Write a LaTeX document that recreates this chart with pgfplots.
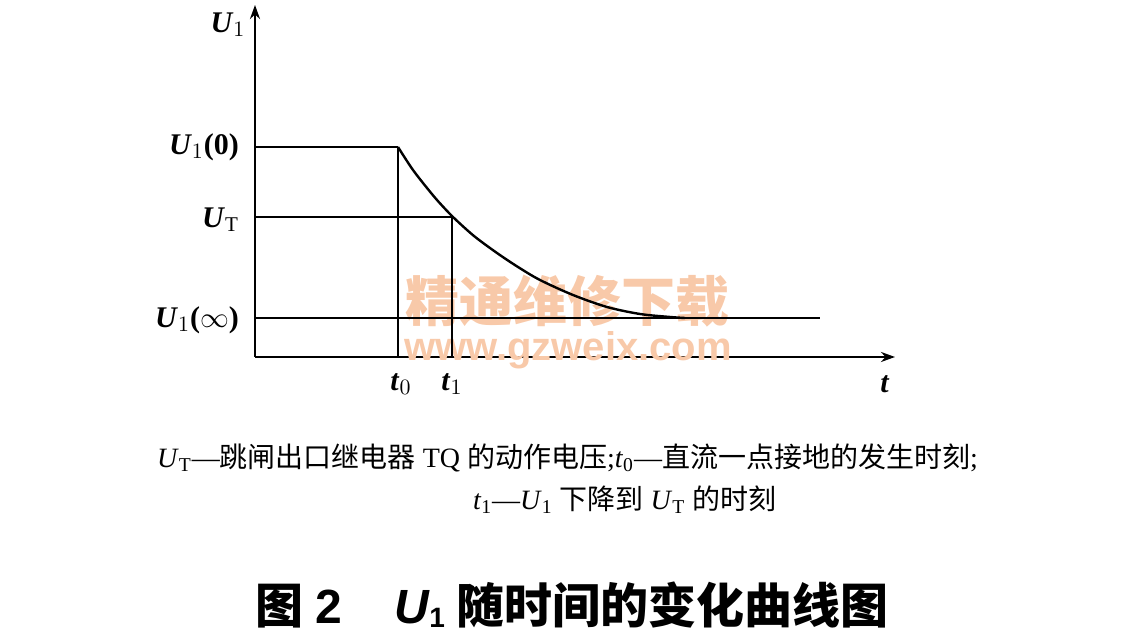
\documentclass[border=0pt]{standalone}
\usepackage{pgfplots}
\pgfplotsset{compat=1.18}
\usepackage{fontspec}
\setmainfont{Liberation Serif}
\newfontfamily\cjk{Noto Sans CJK SC}
\newfontfamily\arialf{Liberation Sans}
\usetikzlibrary{arrows.meta}
\definecolor{wm}{HTML}{F8C9A9}
\begin{document}
\begin{tikzpicture}
\begin{axis}[
  scale only axis, width=320pt, height=176pt,
  xmin=255, xmax=895, ymin=283, ymax=635,
  axis lines=left, axis line style={line width=1.2pt,-{Stealth[length=7pt,width=5pt]}},
  ticks=none, clip=false,
]
% page frame
\path (axis cs:0,0) rectangle (axis cs:1135,640);
% watermark
\node[inner sep=0pt, text=wm, font=\cjk\bfseries\fontsize{27pt}{27pt}\selectfont] at (axis cs:568,339) {精通维修下载};
\node[inner sep=0pt, text=wm, font=\arialf\bfseries\fontsize{20pt}{20pt}\selectfont] at (axis cs:568,290) {www.gzweix.com};
% lines
\addplot[line width=1.2pt, black] coordinates {(255,493) (398,493)};
\addplot[line width=1.2pt, black] coordinates {(255,423) (452,423)};
\addplot[line width=1.2pt, black] coordinates {(255,322) (820,322)};
\addplot[line width=1.1pt, black] coordinates {(398,493) (398,283)};
\addplot[line width=1.1pt, black] coordinates {(452,423) (452,283)};
\addplot[line width=1.2pt, black, smooth] coordinates {
 (398,493) (405,482) (413,470) (423,457) (437,440) (453,423) (474,404) (497,387) (518,373) (540,360) (573,345) (607,333) (640,326) (670,323) (685,322)};
% labels
\node[font=\fontsize{15pt}{15pt}\selectfont] at (axis cs:228,615) {\textbf{\textit{U}}$_1$};
\node[anchor=east, font=\fontsize{15pt}{15pt}\selectfont] at (axis cs:246,493) {\textbf{\textit{U}}$_1$\textbf{(0)}};
\node[anchor=east, font=\fontsize{15pt}{15pt}\selectfont] at (axis cs:246,420) {\textbf{\textit{U}}\textsubscript{T}};
\node[anchor=east, font=\fontsize{15pt}{15pt}\selectfont] at (axis cs:246,320) {\textbf{\textit{U}}$_1$\textbf{(}$\infty$\textbf{)}};
\node[font=\fontsize{15pt}{15pt}\selectfont] at (axis cs:401,256) {\textbf{\textit{t}}$_0$};
\node[font=\fontsize{15pt}{15pt}\selectfont] at (axis cs:452,256) {\textbf{\textit{t}}$_1$};
\node[font=\fontsize{15pt}{15pt}\selectfont] at (axis cs:885,256) {\textbf{\textit{t}}};
% caption
\node[anchor=west, font=\fontsize{14pt}{15pt}\selectfont] at (axis cs:150,182) {\textit{U}\textsubscript{T}—{\cjk 跳闸出口继电器} TQ {\cjk 的动作电压};\textit{t}\textsubscript{0}—{\cjk 直流一点接地的发生时刻};};
\node[anchor=west, font=\fontsize{14pt}{15pt}\selectfont] at (axis cs:466,140) {\textit{t}\textsubscript{1}—\textit{U}\textsubscript{1} {\cjk 下降到} \textit{U}\textsubscript{T} {\cjk 的时刻}};
% title
\node[font=\fontsize{24pt}{24pt}\selectfont] at (axis cs:572,35) {{\cjk\bfseries 图} {\arialf\bfseries 2}\hspace{1.1em}{\arialf\bfseries\itshape U}{\arialf\bfseries\fontsize{14pt}{14pt}\selectfont\raisebox{-0.15em}{1}} {\cjk\bfseries 随时间的变化曲线图}};
\end{axis}
\end{tikzpicture}
\end{document}
